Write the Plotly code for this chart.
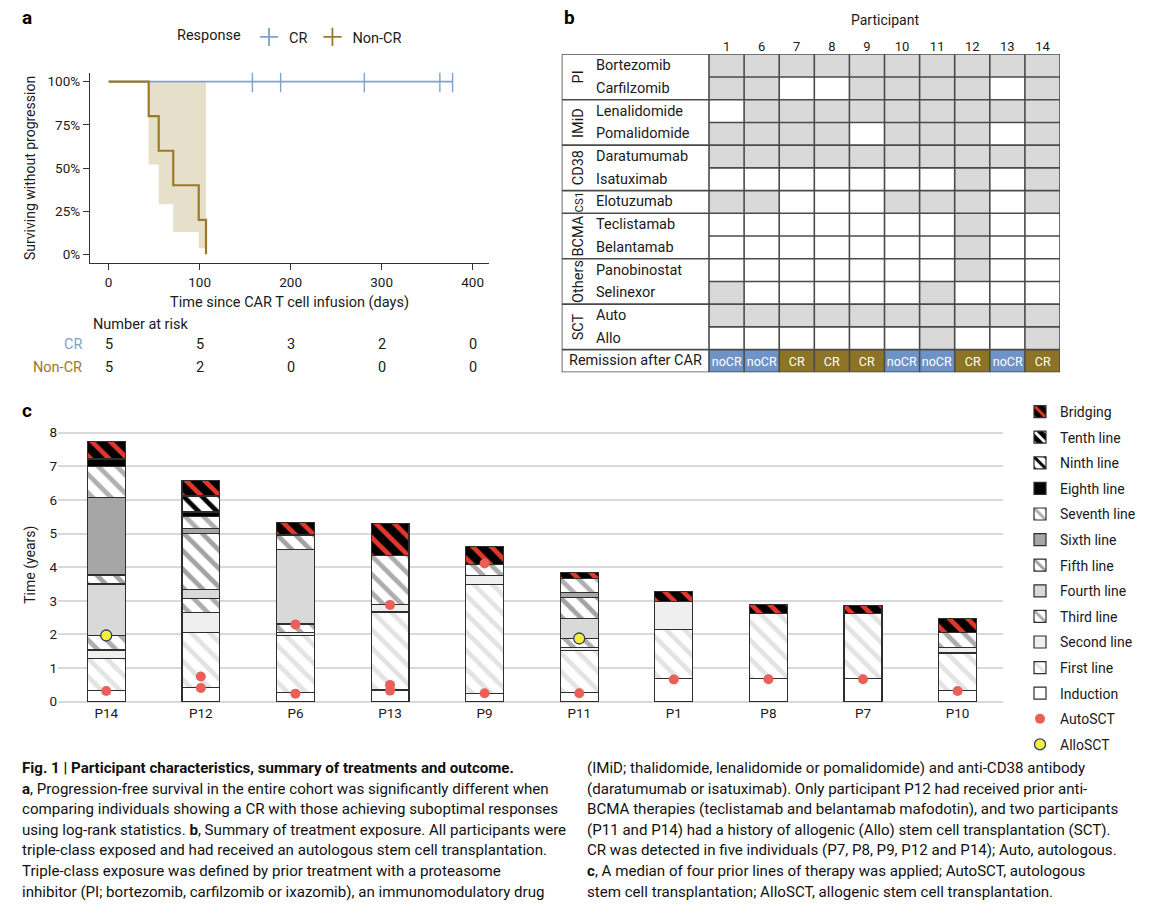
import plotly.graph_objects as go

W, H = 1150, 916
def px(x): return x / W
def py(y): return 1 - y / H

FONT = "Roboto, 'Open Sans', sans-serif"
TXT = "#1a1a1a"

# ---------------- Panel a data ----------------
noncr_days = [0, 44, 55, 71, 99, 107]
noncr_surv = [1.0, 0.8, 0.6, 0.4, 0.2, 0.0]
ci_days = [44, 55, 71, 99, 107]
ci_low = [0.52, 0.29, 0.13, 0.035, 0.035]
ci_high = [1.0, 1.0, 1.0, 1.0, 1.0]
cr_days = [0, 378]
cr_surv = [1.0, 1.0]
cr_censor_days = [158, 189, 281, 364, 378]
risk_days = [0, 100, 200, 300, 400]
risk_cr = [5, 5, 3, 2, 0]
risk_noncr = [5, 2, 0, 0, 0]

# ---------------- Panel b data ----------------
participants_b = ["1", "6", "7", "8", "9", "10", "11", "12", "13", "14"]
groups = ["PI", "IMiD", "CD38", "CS1", "BCMA", "Others", "SCT"]
group_rows = [[0, 1], [2, 3], [4, 5], [6], [7, 8], [9, 10], [11, 12]]
drugs = ["Bortezomib", "Carfilzomib", "Lenalidomide", "Pomalidomide", "Daratumumab",
         "Isatuximab", "Elotuzumab", "Teclistamab", "Belantamab", "Panobinostat",
         "Selinexor", "Auto", "Allo"]
exposure = [
    [1, 1, 1, 1, 1, 1, 1, 1, 1, 1],
    [1, 1, 0, 0, 1, 1, 1, 1, 0, 1],
    [0, 1, 1, 1, 1, 1, 1, 1, 1, 1],
    [1, 1, 1, 1, 0, 1, 1, 1, 0, 1],
    [1, 1, 1, 1, 1, 1, 1, 1, 1, 1],
    [0, 0, 0, 0, 0, 0, 0, 1, 0, 1],
    [1, 1, 0, 0, 0, 1, 1, 1, 0, 1],
    [0, 0, 0, 0, 0, 0, 0, 1, 0, 0],
    [0, 0, 0, 0, 0, 0, 0, 1, 0, 0],
    [0, 0, 0, 0, 0, 0, 0, 1, 0, 0],
    [1, 0, 0, 0, 0, 0, 1, 0, 0, 0],
    [1, 1, 1, 1, 1, 1, 1, 1, 1, 1],
    [0, 0, 0, 0, 0, 0, 1, 0, 0, 1],
]
remission = ["noCR", "noCR", "CR", "CR", "CR", "noCR", "noCR", "CR", "noCR", "CR"]

# ---------------- Panel c data ----------------
patients_c = ["P14", "P12", "P6", "P13", "P9", "P11", "P1", "P8", "P7", "P10"]
line_names = ["Induction", "First line", "Second line", "Third line", "Fourth line",
              "Fifth line", "Sixth line", "Seventh line", "Eighth line", "Ninth line",
              "Tenth line", "Bridging"]
durations = {
    "Induction":    [0.34, 0.43, 0.27, 0.35, 0.25, 0.27, 0.69, 0.69, 0.69, 0.33],
    "First line":   [0.95, 1.62, 1.70, 2.32, 3.24, 1.25, 1.45, 1.94, 1.93, 1.12],
    "Second line":  [0.25, 0.60, 0.09, 0.23, 0.27, 0.10, 0.83, 0.00, 0.00, 0.16],
    "Third line":   [0.43, 0.41, 0.25, 1.45, 0.33, 0.27, 0.00, 0.00, 0.00, 0.44],
    "Fourth line":  [1.53, 0.28, 2.22, 0.00, 0.00, 0.59, 0.00, 0.00, 0.00, 0.00],
    "Fifth line":   [0.27, 1.66, 0.43, 0.00, 0.00, 0.62, 0.00, 0.00, 0.00, 0.00],
    "Sixth line":   [2.31, 0.15, 0.00, 0.00, 0.00, 0.15, 0.00, 0.00, 0.00, 0.00],
    "Seventh line": [0.92, 0.35, 0.00, 0.00, 0.00, 0.41, 0.00, 0.00, 0.00, 0.00],
    "Eighth line":  [0.22, 0.14, 0.00, 0.00, 0.00, 0.00, 0.00, 0.00, 0.00, 0.00],
    "Ninth line":   [0.00, 0.48, 0.00, 0.00, 0.00, 0.00, 0.00, 0.00, 0.00, 0.00],
    "Tenth line":   [0.00, 0.00, 0.00, 0.00, 0.00, 0.00, 0.00, 0.00, 0.00, 0.00],
    "Bridging":     [0.51, 0.46, 0.36, 0.94, 0.52, 0.18, 0.32, 0.27, 0.24, 0.42],
}
auto_patients = ["P14", "P12", "P12", "P6", "P6", "P13", "P13", "P13", "P9", "P9",
                 "P11", "P1", "P8", "P7", "P10"]
auto_times = [0.32, 0.41, 0.75, 0.24, 2.30, 0.33, 0.50, 2.88, 0.25, 4.11,
              0.25, 0.66, 0.67, 0.67, 0.32]
allo_patients = ["P14", "P11"]
allo_times = [1.97, 1.88]

caption_left = [
    "<b>Fig. 1 | Participant characteristics, summary of treatments and outcome.</b>",
    "<b>a</b>, Progression-free survival in the entire cohort was significantly different when",
    "comparing individuals showing a CR with those achieving suboptimal responses",
    "using log-rank statistics. <b>b</b>, Summary of treatment exposure. All participants were",
    "triple-class exposed and had received an autologous stem cell transplantation.",
    "Triple-class exposure was defined by prior treatment with a proteasome",
    "inhibitor (PI; bortezomib, carfilzomib or ixazomib), an immunomodulatory drug",
]
caption_right = [
    "(IMiD; thalidomide, lenalidomide or pomalidomide) and anti-CD38 antibody",
    "(daratumumab or isatuximab). Only participant P12 had received prior anti-",
    "BCMA therapies (teclistamab and belantamab mafodotin), and two participants",
    "(P11 and P14) had a history of allogenic (Allo) stem cell transplantation (SCT).",
    "CR was detected in five individuals (P7, P8, P9, P12 and P14); Auto, autologous.",
    "<b>c</b>, A median of four prior lines of therapy was applied; AutoSCT, autologous",
    "stem cell transplantation; AlloSCT, allogenic stem cell transplantation.",
]

# ---------------- styles ----------------
CR_COL = "#7ea3cc"
NCR_COL = "#9a7a28"
BAND_COL = "rgba(205,192,150,0.5)"
line_style = {
    "Induction":    dict(bg="#ffffff", fg=None),
    "First line":   dict(bg="#ffffff", fg="#e3e3e3"),
    "Second line":  dict(bg="#efefef", fg=None),
    "Third line":   dict(bg="#ffffff", fg="#adadad"),
    "Fourth line":  dict(bg="#d9d9d9", fg=None),
    "Fifth line":   dict(bg="#ffffff", fg="#a3a3a3"),
    "Sixth line":   dict(bg="#a6a6a6", fg=None),
    "Seventh line": dict(bg="#ffffff", fg="#b0b0b0"),
    "Eighth line":  dict(bg="#000000", fg=None),
    "Ninth line":   dict(bg="#ffffff", fg="#000000"),
    "Tenth line":   dict(bg="#000000", fg="#ffffff"),
    "Bridging":     dict(bg="#000000", fg="#e2372b"),
}

fig = go.Figure()

# ---------------- Panel a traces ----------------
fig.add_trace(go.Scatter(x=ci_days, y=ci_high, mode="lines", line=dict(width=0, shape="hv"),
                         showlegend=False, hoverinfo="skip", xaxis="x", yaxis="y"))
fig.add_trace(go.Scatter(x=ci_days, y=ci_low, mode="lines", line=dict(width=0, shape="hv"),
                         fill="tonexty", fillcolor=BAND_COL, showlegend=False,
                         hoverinfo="skip", xaxis="x", yaxis="y"))
fig.add_trace(go.Scatter(x=cr_days, y=cr_surv, mode="lines",
                         line=dict(color=CR_COL, width=1.8, shape="hv"),
                         showlegend=False, xaxis="x", yaxis="y"))
fig.add_trace(go.Scatter(x=cr_censor_days, y=[cr_surv[-1]] * len(cr_censor_days), mode="markers",
                         marker=dict(symbol="line-ns-open", size=15, color=CR_COL,
                                     line=dict(color=CR_COL, width=1.4)),
                         showlegend=False, xaxis="x", yaxis="y"))
fig.add_trace(go.Scatter(x=noncr_days, y=noncr_surv, mode="lines",
                         line=dict(color=NCR_COL, width=2.2, shape="hv"),
                         showlegend=False, xaxis="x", yaxis="y"))
for rank, (name, col) in enumerate([("CR", CR_COL), ("Non-CR", NCR_COL)]):
    fig.add_trace(go.Scatter(x=[None], y=[None], mode="markers", name=name,
                             marker=dict(symbol="cross-thin-open", size=13, color=col,
                                         line=dict(color=col, width=1.8)),
                             legend="legend", legendrank=rank + 1, xaxis="x", yaxis="y"))

# ---------------- Panel b heatmap ----------------
z = [row[:] for row in exposure] + [[2 if r == "noCR" else 3 for r in remission]]
text = [["" for _ in participants_b] for _ in exposure] + [remission]
fig.add_trace(go.Heatmap(
    z=z, x=list(range(len(participants_b))), y=list(range(len(z))),
    text=text, texttemplate="%{text}",
    textfont=dict(color="white", size=12.5, family=FONT),
    zmin=0, zmax=3, showscale=False, hoverinfo="skip",
    colorscale=[[0, "#ffffff"], [1/6, "#ffffff"], [1/6, "#d9d9d9"], [0.5, "#d9d9d9"],
                [0.5, "#6e94c7"], [5/6, "#6e94c7"], [5/6, "#8d7327"], [1, "#8d7327"]],
    xaxis="x2", yaxis="y2"))

# ---------------- Panel c bars ----------------
n_lines = len(line_names)
for i, ln in enumerate(line_names):
    st = line_style[ln]
    if st["fg"] is None:
        marker = dict(color=st["bg"], line=dict(color="#2e2e2e", width=1.2))
    else:
        marker = dict(color=st["bg"], line=dict(color="#2e2e2e", width=1.2),
                      pattern=dict(shape="\\", size=13, solidity=0.36,
                                   fgcolor=st["fg"], bgcolor=st["bg"], fillmode="replace"))
    fig.add_trace(go.Bar(x=patients_c, y=durations[ln], name=ln, marker=marker,
                         width=0.4, legend="legend2", legendgroup=ln,
                         legendrank=n_lines - i, xaxis="x3", yaxis="y3"))
fig.add_trace(go.Scatter(x=auto_patients, y=auto_times, mode="markers", name="AutoSCT",
                         marker=dict(color="#ea5f57", size=10, line=dict(width=0)),
                         legend="legend2", legendgroup="AutoSCT", legendrank=n_lines + 1,
                         xaxis="x3", yaxis="y3"))
fig.add_trace(go.Scatter(x=allo_patients, y=allo_times, mode="markers", name="AlloSCT",
                         marker=dict(color="#f4ef37", size=11, line=dict(color="#2f3e6b", width=1.3)),
                         legend="legend2", legendgroup="AlloSCT", legendrank=n_lines + 2,
                         xaxis="x3", yaxis="y3"))

# ---------------- table lines (panel b) ----------------
LEFT = -4.697
nrows = len(z)
ncols = len(participants_b)
shapes = []
LC = "#4a4a4a"
for k in range(ncols + 1):
    shapes.append(dict(type="line", xref="x2", yref="y2", x0=k - 0.5, x1=k - 0.5,
                       y0=-0.5, y1=nrows - 0.5, line=dict(color=LC, width=1.6)))
shapes.append(dict(type="line", xref="x2", yref="y2", x0=LEFT, x1=LEFT,
                   y0=-0.5, y1=nrows - 0.5, line=dict(color=LC, width=1.6)))
group_bounds = {0, nrows}
for rows in group_rows:
    group_bounds.add(rows[0])
    group_bounds.add(rows[-1] + 1)
for r in range(nrows + 1):
    x0 = LEFT if r in group_bounds else -0.5
    shapes.append(dict(type="line", xref="x2", yref="y2", x0=x0, x1=ncols - 0.5,
                       y0=r - 0.5, y1=r - 0.5, line=dict(color=LC, width=1.6)))

annotations = []
for lab, x, y in [("a", 20, 17), ("b", 562, 17), ("c", 20, 410)]:
    annotations.append(dict(text=f"<b>{lab}</b>", x=px(x), y=py(y), xref="paper", yref="paper",
                            xanchor="left", yanchor="middle", showarrow=False,
                            font=dict(size=19, family=FONT, color="#000")))
annotations.append(dict(text="Number at risk", x=px(91), y=py(324), xref="paper", yref="paper",
                        xanchor="left", yanchor="middle", showarrow=False,
                        font=dict(size=14.5, family=FONT, color=TXT)))
for lab, col, vals, yy in [("CR", CR_COL, risk_cr, 345), ("Non-CR", NCR_COL, risk_noncr, 367)]:
    annotations.append(dict(text=lab, x=px(84), y=py(yy), xref="paper", yref="paper",
                            xanchor="right", yanchor="middle", showarrow=False,
                            font=dict(size=14.5, family=FONT, color=col)))
    for d, v in zip(risk_days, vals):
        annotations.append(dict(text=str(v), x=d, y=py(yy), xref="x", yref="paper",
                                xanchor="center", yanchor="middle", showarrow=False,
                                font=dict(size=14.5, family=FONT, color=TXT)))
annotations.append(dict(text="Participant", x=4.5, y=py(20), xref="x2", yref="paper",
                        xanchor="center", yanchor="middle", showarrow=False,
                        font=dict(size=14, family=FONT, color=TXT)))
for r, d in enumerate(drugs):
    annotations.append(dict(text=d, x=-3.78, y=r, xref="x2", yref="y2", xanchor="left",
                            yanchor="middle", showarrow=False,
                            font=dict(size=14.5, family=FONT, color=TXT)))
for g, rows in zip(groups, group_rows):
    annotations.append(dict(text=g, x=-4.22, y=(rows[0] + rows[-1]) / 2, xref="x2", yref="y2",
                            xanchor="center", yanchor="middle", showarrow=False, textangle=-90,
                            font=dict(size=11.5 if len(rows) == 1 else 14.5, family=FONT, color=TXT)))
annotations.append(dict(text="Remission after CAR", x=(LEFT - 0.5) / 2, y=nrows - 1, xref="x2",
                        yref="y2", xanchor="center", yanchor="middle", showarrow=False,
                        font=dict(size=14.5, family=FONT, color=TXT)))

for lines, x in [(caption_left, 20), (caption_right, 585)]:
    for i, t in enumerate(lines):
        annotations.append(dict(text=t, x=px(x), y=py(768 + 20.6 * i), xref="paper", yref="paper",
                                xanchor="left", yanchor="middle", align="left", showarrow=False,
                                font=dict(size=15.1, family=FONT, color="#111")))

axis_font = dict(size=13.5, family=FONT, color=TXT)
fig.update_layout(
    width=W, height=H, autosize=False,
    margin=dict(l=0, r=0, t=0, b=0, pad=0, autoexpand=False),
    paper_bgcolor="white", plot_bgcolor="white",
    font=dict(family=FONT, color=TXT),
    barmode="stack",
    showlegend=True,
    xaxis=dict(domain=[px(90), px(489)], range=[-20.5, 418], showline=True, linecolor="#333",
               linewidth=1.3, ticks="outside", ticklen=6, tickcolor="#333",
               tickvals=risk_days, showgrid=False, zeroline=False, tickfont=axis_font,
               title=dict(text="Time since CAR T cell infusion (days)",
                          font=dict(size=14.5, family=FONT, color=TXT), standoff=8),
               anchor="y", automargin=False),
    yaxis=dict(domain=[py(263.3), py(72.7)], range=[-0.052, 1.052], showline=True,
               linecolor="#333", linewidth=1.3, ticks="outside", ticklen=6, tickcolor="#333",
               tickvals=[0, 0.25, 0.5, 0.75, 1], ticktext=["0%", "25%", "50%", "75%", "100%"],
               showgrid=False, zeroline=False, tickfont=axis_font,
               title=dict(text="Surviving without progression",
                          font=dict(size=14, family=FONT, color=TXT), standoff=8),
               anchor="x", automargin=False),
    xaxis2=dict(domain=[px(561.7), px(1060)], range=[LEFT, ncols - 0.5], side="top",
                tickvals=list(range(ncols)), ticktext=participants_b, showgrid=False,
                zeroline=False, showline=False, ticks="", tickfont=dict(size=13, family=FONT, color=TXT),
                anchor="y2", automargin=False),
    yaxis2=dict(domain=[py(372.3), py(54.3)], range=[nrows - 0.5, -0.5], showgrid=False,
                zeroline=False, showticklabels=False, ticks="", anchor="x2", automargin=False),
    xaxis3=dict(domain=[px(58), px(1003)], range=[-0.51, 9.48], showgrid=False,
                zeroline=False, showline=False, ticks="", tickfont=dict(size=13.5, family=FONT, color=TXT),
                anchor="y3", type="category", categoryorder="array", categoryarray=patients_c,
                automargin=False),
    yaxis3=dict(domain=[py(703.4), py(426)], range=[-0.05, 8.2], tickvals=list(range(9)),
                showgrid=True, gridcolor="#d9d9d9", gridwidth=1.6, zeroline=False,
                showline=False, ticks="", tickfont=axis_font,
                title=dict(text="Time (years)", font=dict(size=14, family=FONT, color=TXT), standoff=10),
                anchor="x3", automargin=False),
    legend=dict(x=px(175), y=py(37), xanchor="left", yanchor="middle", orientation="h",
                traceorder="normal",
                title=dict(text="Response", side="left", font=dict(size=14.5, family=FONT, color=TXT)),
                font=dict(size=14.5, family=FONT, color=TXT), bgcolor="rgba(0,0,0,0)"),
    legend2=dict(x=px(1020), y=py(396), xanchor="left", yanchor="top", orientation="v",
                 traceorder="grouped", tracegroupgap=4.4,
                 font=dict(size=14, family=FONT, color=TXT), bgcolor="rgba(0,0,0,0)"),
    shapes=shapes,
    annotations=annotations,
)

fig.write_html("out.html", config={"displayModeBar": False},
               post_script="document.body.style.margin='0';")
